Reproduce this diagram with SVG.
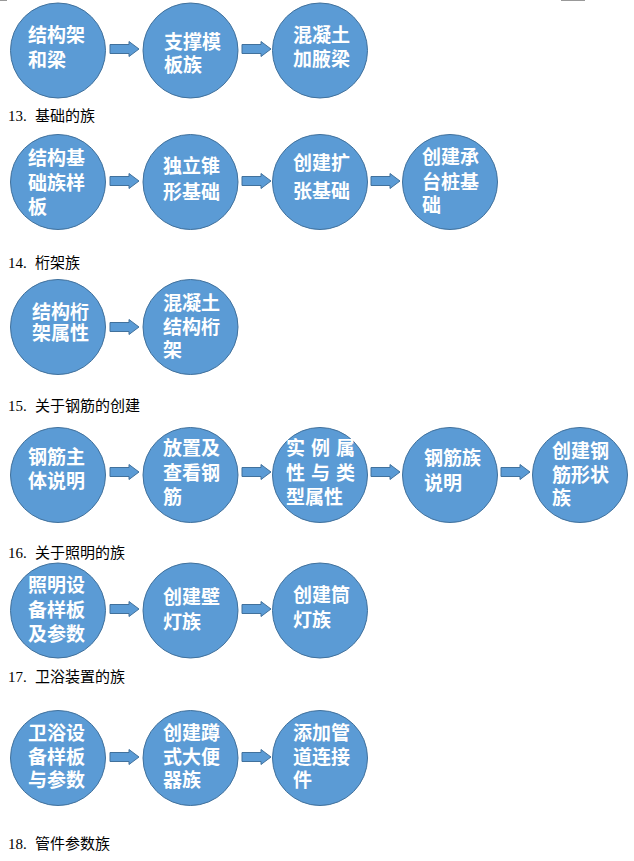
<svg xmlns="http://www.w3.org/2000/svg" xmlns:xlink="http://www.w3.org/1999/xlink" width="634" height="861" viewBox="0 0 634 861">
<style>
.n{fill:#5B9BD5;stroke:#41719C;stroke-width:1}
.t{fill:#fff;font-family:"Noto Sans CJK SC","Noto Sans",sans-serif;font-size:19px;font-weight:bold}
.h{fill:#000;font-family:"Liberation Serif","Noto Sans CJK SC",serif;font-size:15px}
.hc{font-family:"Noto Sans CJK SC",sans-serif;font-size:15px}
.a{fill:#5B9BD5;stroke:#41719C;stroke-width:1}
</style>
<defs>
<polygon id="arr" class="a" points="0,-4.5 19,-4.5 19,-7.5 29,0 19,7.5 19,4.5 0,4.5"/>
</defs>
<rect width="634" height="861" fill="#fff"/>
<line x1="0" y1="0.5" x2="7" y2="0.5" stroke="#999" stroke-width="1"/>
<line x1="561" y1="0.5" x2="585" y2="0.5" stroke="#999" stroke-width="1"/>

<g id="connectors">
<use href="#arr" x="110" y="49"/><use href="#arr" x="242" y="49"/>
<use href="#arr" x="110" y="181"/><use href="#arr" x="242" y="181"/><use href="#arr" x="371" y="181"/>
<use href="#arr" x="110" y="327"/>
<use href="#arr" x="110" y="472"/><use href="#arr" x="242" y="472"/><use href="#arr" x="371" y="472"/><use href="#arr" x="501" y="472"/>
<use href="#arr" x="110" y="609"/><use href="#arr" x="242" y="609"/>
<use href="#arr" x="110" y="757"/><use href="#arr" x="242" y="757"/>
</g>

<g id="titles">
<text class="h" y="120.5"><tspan x="8">13.</tspan><tspan class="hc" x="35">基础的族</tspan></text>
<text class="h" y="267.5"><tspan x="8">14.</tspan><tspan class="hc" x="35">桁架族</tspan></text>
<text class="h" y="410.5"><tspan x="8">15.</tspan><tspan class="hc" x="35">关于钢筋的创建</tspan></text>
<text class="h" y="557.5"><tspan x="8">16.</tspan><tspan class="hc" x="35">关于照明的族</tspan></text>
<text class="h" y="681.5"><tspan x="8">17.</tspan><tspan class="hc" x="35">卫浴装置的族</tspan></text>
<text class="h" y="848.5"><tspan x="8">18.</tspan><tspan class="hc" x="35">管件参数族</tspan></text>
</g>

<g id="n1a"><circle class="n" cx="58" cy="50.5" r="47.5"/><text class="t"><tspan x="28" y="42">结构架</tspan><tspan x="28" y="67">和梁</tspan></text></g>
<g id="n1b"><circle class="n" cx="190.5" cy="50.5" r="47.5"/><text class="t"><tspan x="164" y="49">支撑模</tspan><tspan x="164" y="72">板族</tspan></text></g>
<g id="n1c"><circle class="n" cx="320" cy="50.5" r="47.5"/><text class="t"><tspan x="293" y="42">混凝土</tspan><tspan x="293" y="66">加腋梁</tspan></text></g>

<g id="n2a"><circle class="n" cx="58" cy="182" r="47.5"/><text class="t"><tspan x="28" y="165">结构基</tspan><tspan x="28" y="190">础族样</tspan><tspan x="28" y="214">板</tspan></text></g>
<g id="n2b"><circle class="n" cx="190.5" cy="182" r="47.5"/><text class="t"><tspan x="163" y="173">独立锥</tspan><tspan x="163" y="199">形基础</tspan></text></g>
<g id="n2c"><circle class="n" cx="320" cy="182" r="47.5"/><text class="t"><tspan x="293" y="170">创建扩</tspan><tspan x="293" y="198">张基础</tspan></text></g>
<g id="n2d"><circle class="n" cx="450" cy="182" r="47.5"/><text class="t"><tspan x="422" y="164">创建承</tspan><tspan x="422" y="189">台桩基</tspan><tspan x="422" y="212">础</tspan></text></g>

<g id="n3a"><circle class="n" cx="58" cy="327" r="47.5"/><text class="t"><tspan x="32" y="319">结构桁</tspan><tspan x="32" y="340">架属性</tspan></text></g>
<g id="n3b"><circle class="n" cx="190.5" cy="327" r="47.5"/><text class="t"><tspan x="163" y="310">混凝土</tspan><tspan x="163" y="334">结构桁</tspan><tspan x="163" y="357">架</tspan></text></g>

<g id="n4a"><circle class="n" cx="58" cy="475" r="47.5"/><text class="t"><tspan x="28" y="464">钢筋主</tspan><tspan x="28" y="488">体说明</tspan></text></g>
<g id="n4b"><circle class="n" cx="190.5" cy="475" r="47.5"/><text class="t"><tspan x="163" y="455">放置及</tspan><tspan x="163" y="480">查看钢</tspan><tspan x="163" y="504">筋</tspan></text></g>
<g id="n4c"><circle class="n" cx="320" cy="475" r="47.5"/><text class="t"><tspan x="286" y="455" textLength="69" lengthAdjust="spacing">实 例 属</tspan><tspan x="286" y="480" textLength="69" lengthAdjust="spacing">性 与 类</tspan><tspan x="286" y="504">型属性</tspan></text></g>
<g id="n4d"><circle class="n" cx="450" cy="475" r="47.5"/><text class="t"><tspan x="424" y="465">钢筋族</tspan><tspan x="424" y="490">说明</tspan></text></g>
<g id="n4e"><circle class="n" cx="580" cy="475" r="47.5"/><text class="t"><tspan x="552" y="458">创建钢</tspan><tspan x="552" y="482">筋形状</tspan><tspan x="552" y="505">族</tspan></text></g>

<g id="n5a"><circle class="n" cx="58" cy="610.5" r="47.5"/><text class="t"><tspan x="28" y="592">照明设</tspan><tspan x="28" y="617">备样板</tspan><tspan x="28" y="641">及参数</tspan></text></g>
<g id="n5b"><circle class="n" cx="190.5" cy="610.5" r="47.5"/><text class="t"><tspan x="163" y="604">创建壁</tspan><tspan x="163" y="629">灯族</tspan></text></g>
<g id="n5c"><circle class="n" cx="320" cy="610.5" r="47.5"/><text class="t"><tspan x="293" y="602">创建筒</tspan><tspan x="293" y="627">灯族</tspan></text></g>

<g id="n6a"><circle class="n" cx="58" cy="758" r="47.5"/><text class="t"><tspan x="28" y="740">卫浴设</tspan><tspan x="28" y="764">备样板</tspan><tspan x="28" y="787">与参数</tspan></text></g>
<g id="n6b"><circle class="n" cx="190.5" cy="758" r="47.5"/><text class="t"><tspan x="163" y="740">创建蹲</tspan><tspan x="163" y="764">式大便</tspan><tspan x="163" y="787">器族</tspan></text></g>
<g id="n6c"><circle class="n" cx="320" cy="758" r="47.5"/><text class="t"><tspan x="293" y="740">添加管</tspan><tspan x="293" y="764">道连接</tspan><tspan x="293" y="787">件</tspan></text></g>
</svg>
